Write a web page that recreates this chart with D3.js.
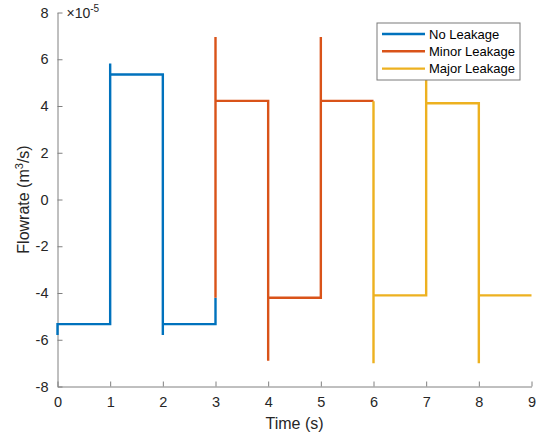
<!DOCTYPE html>
<html>
<head>
<meta charset="utf-8">
<script src="https://cdn.jsdelivr.net/npm/d3@7"></script>
<style>
  body { margin: 0; background: #fff; }
  text { font-family: "Liberation Sans", Arial, sans-serif; }
</style>
</head>
<body>
<svg id="chart"></svg>
<script>
// flowrate data, units of 1e-5 m^3/s
const noLeakT = [0, 0, 1, 1, 1, 2, 2, 2, 3, 3];
const noLeakQ = [-5.8, -5.33, -5.33, 5.82, 5.35, 5.35, -5.8, -5.33, -5.33, -4.2];
const minorT = [3, 3, 3, 4, 4, 4, 5, 5, 5, 6];
const minorQ = [-4.2, 6.95, 4.22, 4.22, -6.9, -4.2, -4.2, 6.95, 4.22, 4.22];
const majorT = [6, 6, 6, 7, 7, 7, 8, 8, 8, 9];
const majorQ = [4.2, -7.0, -4.1, -4.1, 7.0, 4.12, 4.12, -7.0, -4.1, -4.1];

const seriesNames = ["No Leakage", "Minor Leakage", "Major Leakage"];
const colors = ["#0072BD", "#D95319", "#EDB120"];
const xTicks = [0, 1, 2, 3, 4, 5, 6, 7, 8, 9];
const yTicks = [-8, -6, -4, -2, 0, 2, 4, 6, 8];

const W = 550, H = 436;
const margin = { top: 12.5, right: 18.5, bottom: 49.5, left: 57.5 };
const width = W - margin.left - margin.right,
      height = H - margin.top - margin.bottom;

const svg = d3.select("#chart").attr("width", W).attr("height", H);
const g = svg.append("g").attr("transform", `translate(${margin.left},${margin.top})`);

const x = d3.scaleLinear().domain([0, 9]).range([0, width]);
const y = d3.scaleLinear().domain([-8, 8]).range([height, 0]);

// axes (ticks point inward like MATLAB)
const xAxis = g.append("g")
    .attr("transform", `translate(0,${height})`)
    .call(d3.axisBottom(x).tickValues(xTicks).tickFormat(d => String(d))
        .tickSizeInner(-5).tickSizeOuter(0).tickPadding(10));
const yAxis = g.append("g")
    .call(d3.axisLeft(y).tickValues(yTicks).tickFormat(d => String(d))
        .tickSizeInner(-5).tickSizeOuter(0).tickPadding(9));

[xAxis, yAxis].forEach(a => {
    a.select(".domain").attr("stroke", "#808080");
    a.selectAll(".tick line").attr("stroke", "#808080");
    a.selectAll(".tick text").attr("fill", "#262626").style("font-size", "14.5px");
});

// exponent label
const expo = g.append("text")
    .attr("x", 9).attr("y", 5)
    .attr("fill", "#262626")
    .style("font-size", "14px");
expo.append("tspan").text("\u00d710");
expo.append("tspan").attr("dy", -6).style("font-size", "10px").text("-5");

// axis labels
g.append("text")
    .attr("x", width / 2).attr("y", height + 42)
    .attr("text-anchor", "middle")
    .attr("fill", "#262626")
    .style("font-size", "16px")
    .text("Time (s)");

const yl = g.append("text")
    .attr("transform", `translate(-29,${height / 2}) rotate(-90)`)
    .attr("text-anchor", "middle")
    .attr("fill", "#262626")
    .style("font-size", "16px");
yl.append("tspan").text("Flowrate (m");
yl.append("tspan").attr("dy", -6).style("font-size", "11px").text("3");
yl.append("tspan").attr("dy", 6).text("/s)");

// lines
const series = [
    d3.zip(noLeakT, noLeakQ),
    d3.zip(minorT, minorQ),
    d3.zip(majorT, majorQ)
];
const line = d3.line().x(d => x(d[0])).y(d => y(d[1]));

g.selectAll(".series")
    .data(series)
    .enter()
    .append("path")
    .attr("class", "series")
    .attr("fill", "none")
    .attr("stroke", (d, i) => colors[i])
    .attr("stroke-width", 2.4)
    .attr("stroke-linejoin", "miter")
    .attr("d", line);

// legend
const lg = svg.append("g").attr("transform", "translate(377,23)");
lg.append("rect")
    .attr("width", 143).attr("height", 57)
    .attr("fill", "#fff")
    .attr("stroke", "#7a7a7a")
    .attr("stroke-width", 1);
seriesNames.forEach((name, i) => {
    const yy = 11 + i * 17.3;
    lg.append("line")
        .attr("x1", 5).attr("x2", 48)
        .attr("y1", yy).attr("y2", yy)
        .attr("stroke", colors[i]).attr("stroke-width", 2.4);
    lg.append("text")
        .attr("x", 52).attr("y", yy + 4.5)
        .attr("fill", "#000")
        .style("font-size", "13px")
        .text(name);
});
</script>
</body>
</html>
